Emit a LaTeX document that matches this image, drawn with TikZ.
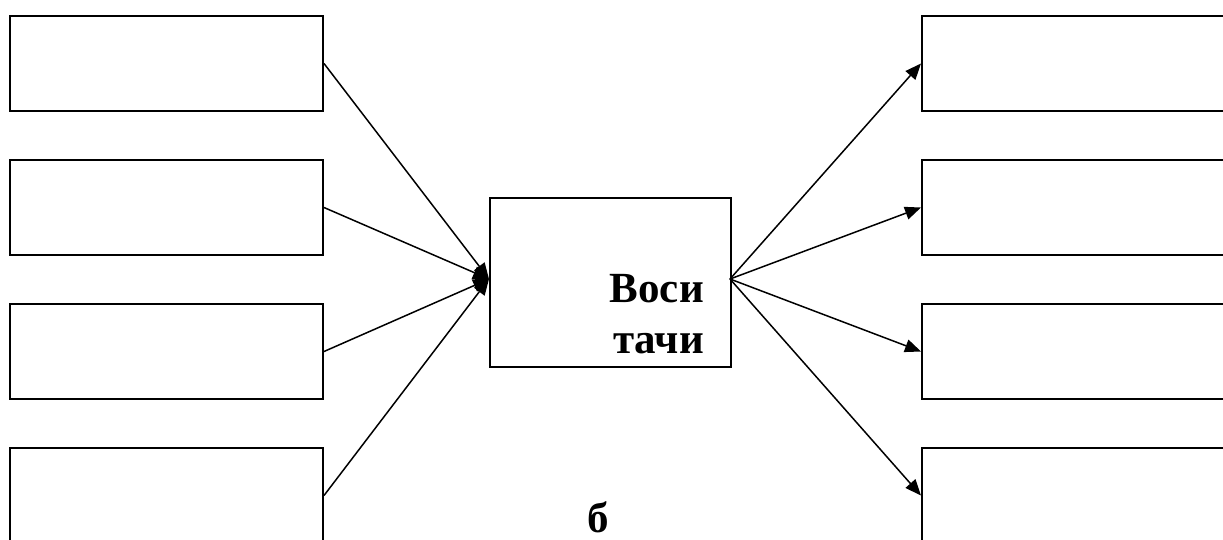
\documentclass[tikz,border=0pt]{standalone}
\usepackage{fontspec}
\setmainfont{Liberation Serif}
\usetikzlibrary{arrows.meta}
\begin{document}
\begin{tikzpicture}[x=1pt,y=-1pt,
  box/.style={draw,line width=2pt,minimum width=313pt,minimum height=95pt,inner sep=0pt,anchor=north west},
  link/.style={line width=1.5pt,-{Triangle[length=16pt,width=13pt]}},
  lbl/.style={font=\bfseries\fontsize{43}{52}\selectfont,inner sep=0pt}]
\useasboundingbox (0,0) rectangle (1223,539);
\clip (0,0) rectangle (1223,539);
\node[box] (l1) at (9,15) {};
\node[box] (l2) at (9,159) {};
\node[box] (l3) at (9,303) {};
\node[box] (l4) at (9,447) {};
\node[box] (r1) at (921,15) {};
\node[box] (r2) at (921,159) {};
\node[box] (r3) at (921,303) {};
\node[box] (r4) at (921,447) {};
\node[draw,line width=2pt,minimum width=241pt,minimum height=169pt,inner sep=0pt,anchor=north west] (c) at (489,197) {};
\node[lbl,anchor=base east] (t1) at (704,302) {Воси};
\node[lbl,anchor=base east] (t2) at (704,353) {тачи};
\node[lbl,anchor=base] (b) at (598,532) {б};
\coordinate (cw) at (489,279);
\coordinate (ce) at (730,279);
\foreach \i in {1,2,3,4}{
  \draw[link] (l\i.east) -- (cw);
  \draw[link] (ce) -- (r\i.west);
}
\end{tikzpicture}
\end{document}
